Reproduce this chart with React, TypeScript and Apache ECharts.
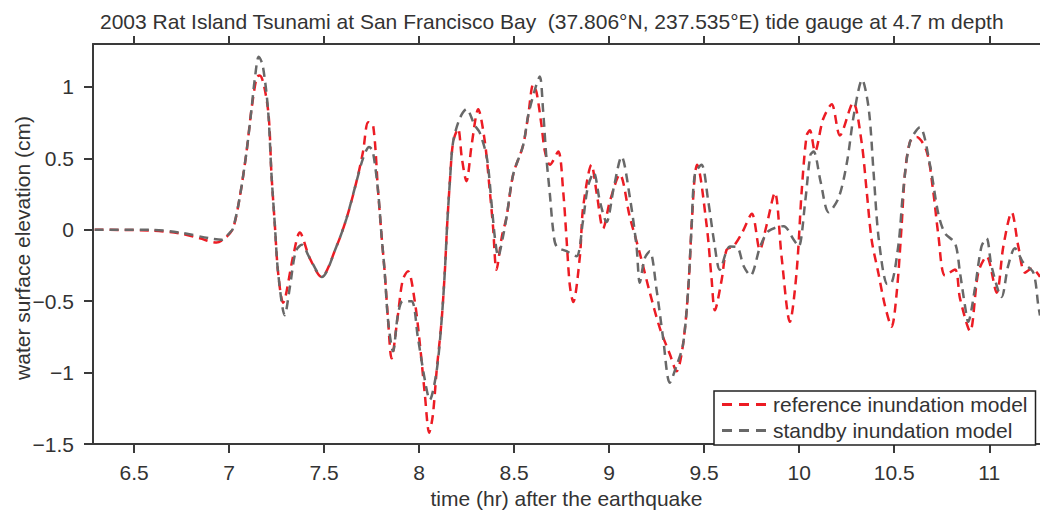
import React, { useEffect, useRef } from "react";
import * as echarts from "echarts";

const FONT = "'Liberation Sans', Arial, Helvetica, sans-serif";

const titleText =
  "2003 Rat Island Tsunami at San Francisco Bay  (37.806°N, 237.535°E) tide gauge at 4.7 m depth";
const xName = "time (hr) after the earthquake";
const yName = "water surface elevation (cm)";
const seriesNames = ["reference inundation model", "standby inundation model"];

const xTicks = [6.5, 7, 7.5, 8, 8.5, 9, 9.5, 10, 10.5, 11];
const yTicks = [-1.5, -1, -0.5, 0, 0.5, 1];

// [time (hr), elevation (cm)]
const refPoints: [number, number][] = [
  [6.293, 0], [6.583, -0.005], [6.74, -0.025], [6.846, -0.06], [6.934, -0.09], [6.986, -0.05],
  [7.021, 0.01], [7.056, 0.226], [7.092, 0.547], [7.118, 0.844], [7.146, 1.07], [7.162, 1.08],
  [7.205, 0.84], [7.223, 0.39], [7.241, 0.03], [7.258, -0.3], [7.284, -0.51], [7.337, -0.186],
  [7.372, -0.02], [7.425, -0.2], [7.486, -0.33], [7.565, -0.117], [7.618, 0.08], [7.671, 0.34],
  [7.705, 0.547], [7.732, 0.753], [7.758, 0.73], [7.784, 0.27], [7.802, -0.036], [7.819, -0.3],
  [7.837, -0.64], [7.855, -0.9], [7.888, -0.6], [7.914, -0.35], [7.942, -0.29], [7.977, -0.5],
  [8.004, -0.8], [8.03, -1.15], [8.053, -1.42], [8.072, -1.3], [8.092, -0.99], [8.118, -0.64],
  [8.135, -0.3], [8.147, 0.02], [8.162, 0.34], [8.179, 0.615], [8.205, 0.707], [8.225, 0.5],
  [8.249, 0.34], [8.277, 0.6], [8.311, 0.844], [8.346, 0.615], [8.372, 0.27], [8.389, 0.02],
  [8.407, -0.28], [8.435, -0.05], [8.46, 0.088], [8.495, 0.387], [8.547, 0.59], [8.574, 0.8],
  [8.6, 1.016], [8.618, 0.96], [8.644, 0.73], [8.662, 0.547], [8.688, 0.455], [8.732, 0.547],
  [8.758, 0.27], [8.776, -0.07], [8.793, -0.39], [8.811, -0.506], [8.846, -0.186], [8.863, 0.157],
  [8.907, 0.455], [8.935, 0.25], [8.968, 0.009], [9.004, 0.2], [9.056, 0.387], [9.109, 0.088],
  [9.161, -0.163], [9.214, -0.44], [9.267, -0.69], [9.319, -0.87], [9.355, -0.99], [9.389, -0.8],
  [9.416, -0.415], [9.434, 0.032], [9.451, 0.387], [9.462, 0.455], [9.513, 0.03], [9.539, -0.346],
  [9.556, -0.564], [9.592, -0.35], [9.618, -0.14], [9.653, -0.117], [9.7, -0.02], [9.751, 0.112],
  [9.793, -0.14], [9.828, 0.03], [9.872, 0.26], [9.907, -0.186], [9.951, -0.644], [9.986, -0.3],
  [10.013, 0.27], [10.039, 0.66], [10.056, 0.696], [10.083, 0.547], [10.126, 0.775], [10.171, 0.878],
  [10.214, 0.66], [10.284, 0.89], [10.328, 0.615], [10.355, 0.27], [10.381, -0.07], [10.416, -0.3],
  [10.451, -0.53], [10.486, -0.678], [10.513, -0.44], [10.539, 0.03], [10.556, 0.387], [10.583, 0.615],
  [10.618, 0.65], [10.671, 0.547], [10.705, 0.27], [10.732, -0.036], [10.767, -0.32], [10.82, -0.278],
  [10.846, -0.48], [10.899, -0.71], [10.942, -0.3], [10.986, -0.186], [11.039, -0.44], [11.074, -0.117],
  [11.118, 0.123], [11.153, -0.117], [11.188, -0.3], [11.225, -0.27], [11.267, -0.33],
];

const stdPoints: [number, number][] = [
  [6.293, 0], [6.583, 0], [6.74, -0.02], [6.898, -0.06], [6.962, -0.07], [7.004, -0.02],
  [7.021, 0.01], [7.056, 0.226], [7.092, 0.547], [7.118, 0.844], [7.135, 1.05], [7.156, 1.21],
  [7.177, 1.15], [7.205, 0.84], [7.223, 0.39], [7.241, 0.03], [7.258, -0.3], [7.293, -0.598],
  [7.32, -0.4], [7.351, -0.15], [7.383, -0.105], [7.425, -0.2], [7.488, -0.33], [7.565, -0.117],
  [7.618, 0.08], [7.671, 0.34], [7.705, 0.5], [7.737, 0.58], [7.756, 0.55], [7.784, 0.27],
  [7.802, -0.036], [7.819, -0.3], [7.837, -0.64], [7.863, -0.85], [7.888, -0.6], [7.914, -0.5],
  [7.96, -0.5], [7.993, -0.75], [8.03, -1.05], [8.056, -1.19], [8.092, -0.99], [8.118, -0.64],
  [8.135, -0.3], [8.147, 0.02], [8.162, 0.34], [8.179, 0.615], [8.214, 0.78], [8.249, 0.844],
  [8.293, 0.73], [8.319, 0.68], [8.357, 0.5], [8.383, 0.157], [8.4, -0.07], [8.416, -0.186],
  [8.441, -0.05], [8.46, 0.088], [8.495, 0.387], [8.547, 0.59], [8.574, 0.8], [8.609, 0.98],
  [8.635, 1.073], [8.652, 0.84], [8.67, 0.5], [8.688, 0.249], [8.705, 0.0], [8.723, -0.117],
  [8.776, -0.15], [8.828, -0.186], [8.861, 0.05], [8.888, 0.3], [8.919, 0.4], [8.951, 0.2],
  [8.986, 0.054], [9.025, 0.3], [9.065, 0.512], [9.109, 0.226], [9.144, -0.117], [9.161, -0.37],
  [9.187, -0.2], [9.214, -0.15], [9.249, -0.415], [9.284, -0.76], [9.319, -1.07], [9.355, -0.95],
  [9.389, -0.8], [9.416, -0.415], [9.434, 0.032], [9.451, 0.387], [9.486, 0.455], [9.521, 0.203],
  [9.556, -0.117], [9.582, -0.28], [9.635, -0.117], [9.672, -0.12], [9.708, -0.255], [9.743, -0.32],
  [9.795, -0.117], [9.839, -0.009], [9.918, 0.025], [9.971, -0.07], [9.997, -0.117], [10.032, 0.203],
  [10.059, 0.524], [10.076, 0.547], [10.112, 0.34], [10.155, 0.123], [10.208, 0.226], [10.252, 0.478],
  [10.287, 0.8], [10.331, 1.05], [10.366, 0.844], [10.392, 0.387], [10.419, -0.07], [10.463, -0.38],
  [10.48, -0.38], [10.521, -0.117], [10.547, 0.27], [10.583, 0.615], [10.635, 0.718], [10.688, 0.455],
  [10.732, 0.112], [10.767, -0.025], [10.82, -0.094], [10.846, -0.3], [10.872, -0.53], [10.889, -0.644],
  [10.924, -0.415], [10.959, -0.117], [10.986, -0.06], [11.012, -0.255], [11.065, -0.47], [11.099, -0.255],
  [11.135, -0.13], [11.179, -0.23], [11.232, -0.3], [11.258, -0.53], [11.267, -0.6],
];

const X_MIN = 6.284;
const X_MAX = 11.267;
const Y_MIN = -1.5;
const Y_MAX = 1.3;

const RED = "#ec1c24";
const GRAY = "#686868";
const AXIS = "#3a3a3a";
const TEXT = "#333333";
const FS = 21;
const DASH_ICON = "path://M0,0h10v3h-10z M17,0h10v3h-10z M34,0h10v3h-10z";

export default function App() {
  const ref = useRef<HTMLDivElement>(null);
  useEffect(() => {
    if (!ref.current) return;
    const chart = echarts.init(ref.current, null, { renderer: "svg" });
    const minus = (v: number) => (v < 0 ? "\u2212" + String(Math.abs(v)) : String(v));
    const tickStyle = { length: 9, lineStyle: { color: AXIS, width: 2 } };
    chart.setOption({
      animation: false,
      backgroundColor: "#ffffff",
      textStyle: { fontFamily: FONT },
      title: {
        text: titleText,
        left: 100,
        top: 11,
        padding: 0,
        textStyle: { fontSize: FS, fontWeight: "normal", color: TEXT, fontFamily: FONT },
      },
      grid: { left: 93, width: 947, top: 44, height: 408, containLabel: false },
      legend: {
        orient: "vertical",
        left: 714,
        top: 391,
        padding: [3, 8, 4, 8],
        itemGap: 5,
        itemWidth: 44,
        itemHeight: 3,
        borderColor: "#222",
        borderWidth: 1.5,
        backgroundColor: "#ffffff",
        textStyle: { fontSize: FS, color: TEXT, fontFamily: FONT, padding: [0, 0, 0, 2] },
        data: seriesNames.map((n) => ({ name: n, icon: DASH_ICON })),
      },
      xAxis: [
        {
          type: "value",
          position: "bottom",
          min: X_MIN,
          max: X_MAX,
          axisLine: { onZero: false, lineStyle: { color: AXIS, width: 2 } },
          axisTick: { ...tickStyle, customValues: xTicks },
          axisLabel: {
            customValues: xTicks,
            margin: 18,
            fontSize: FS,
            color: TEXT,
            fontFamily: FONT,
            formatter: (v: number) => String(v),
          },
          splitLine: { show: false },
          name: xName,
          nameLocation: "middle",
          nameGap: 39,
          nameTextStyle: { fontSize: FS, color: TEXT, fontFamily: FONT },
        },
        {
          type: "value",
          position: "top",
          min: X_MIN,
          max: X_MAX,
          axisLine: { onZero: false, lineStyle: { color: AXIS, width: 2 } },
          axisTick: { ...tickStyle, length: 8, customValues: xTicks },
          axisLabel: { show: false },
          splitLine: { show: false },
        },
      ],
      yAxis: {
        type: "value",
        min: Y_MIN,
        max: Y_MAX,
        axisLine: { show: true, onZero: false, lineStyle: { color: AXIS, width: 2 } },
        axisTick: { show: true, ...tickStyle, customValues: yTicks },
        axisLabel: {
          customValues: yTicks,
          margin: 19,
          fontSize: FS,
          color: TEXT,
          fontFamily: FONT,
          formatter: minus,
        },
        splitLine: { show: false },
      },
      graphic: [
        {
          type: "text",
          x: 22,
          y: 248,
          rotation: Math.PI / 2,
          style: {
            text: yName,
            fontSize: FS,
            fontFamily: FONT,
            fill: TEXT,
            align: "center",
            verticalAlign: "middle",
          },
        },
      ],
      series: [
        {
          name: seriesNames[0],
          type: "line",
          xAxisIndex: 0,
          data: refPoints,
          symbol: "none",
          showSymbol: false,
          smooth: 0.3,
          lineStyle: { color: RED, width: 2.5, type: [9, 6] },
          itemStyle: { color: RED },
          z: 2,
        },
        {
          name: seriesNames[1],
          type: "line",
          xAxisIndex: 0,
          data: stdPoints,
          symbol: "none",
          showSymbol: false,
          smooth: 0.3,
          lineStyle: { color: GRAY, width: 2.5, type: [9, 6] },
          itemStyle: { color: GRAY },
          z: 3,
        },
      ],
    });
    return () => chart.dispose();
  }, []);
  return (
    <div
      ref={ref}
      style={{ position: "absolute", left: 0, top: 0, width: 1040, height: 514 }}
    />
  );
}
